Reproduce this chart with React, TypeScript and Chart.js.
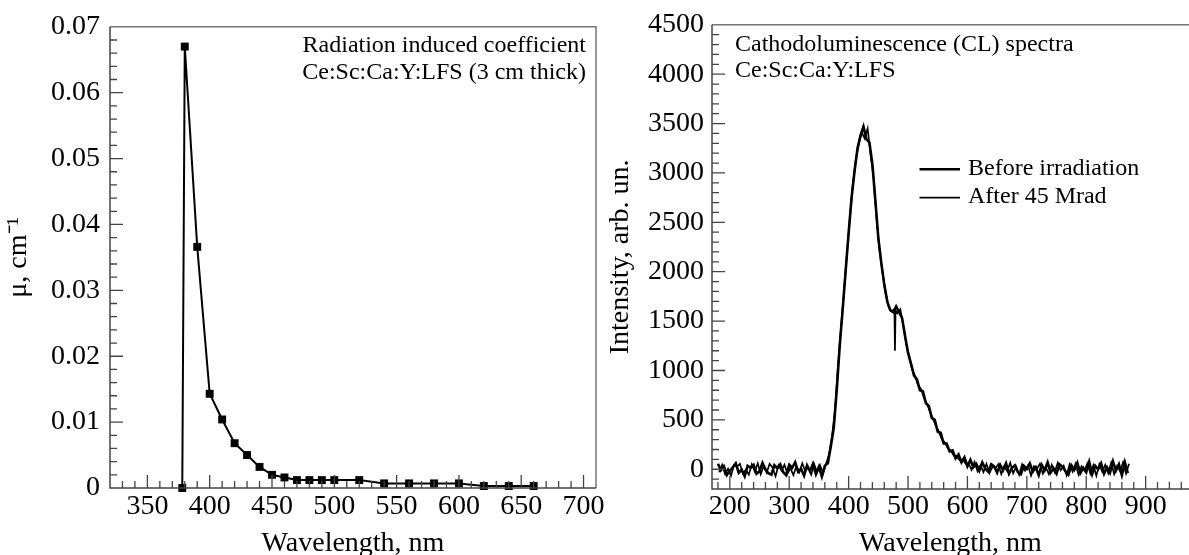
import React, { useEffect, useRef } from "react";
import { Chart, registerables } from "chart.js";

Chart.register(...registerables);

const FONT = '"Liberation Serif", "Times New Roman", Times, serif';

// ---------- Left panel: radiation induced absorption coefficient ----------
const absWavelength = [378, 380, 390, 400, 410, 420, 430, 440, 450, 460, 470, 480, 490, 500, 520, 540, 560, 580, 600, 620, 640, 660];
const absCoefficient = [0, 0.067, 0.0366, 0.0143, 0.0104, 0.0068, 0.005, 0.0032, 0.002, 0.0016, 0.0012, 0.0012, 0.0012, 0.0012, 0.0012, 0.0007, 0.0007, 0.0007, 0.0007, 0.0003, 0.0003, 0.0003];
const leftXTicks = [350, 400, 450, 500, 550, 600, 650, 700];
const leftYTicks = [0, 0.01, 0.02, 0.03, 0.04, 0.05, 0.06, 0.07];
const leftYTickLabels = ["0", "0.01", "0.02", "0.03", "0.04", "0.05", "0.06", "0.07"];
const leftNotes = ["Radiation induced coefficient", "Ce:Sc:Ca:Y:LFS (3 cm thick)"];

// ---------- Right panel: cathodoluminescence spectra ----------
const rightXTicks = [200, 300, 400, 500, 600, 700, 800, 900];
const rightYTicks = [0, 500, 1000, 1500, 2000, 2500, 3000, 3500, 4000, 4500];
const rightNotes = ["Cathodoluminescence (CL) spectra", "Ce:Sc:Ca:Y:LFS"];
const seriesLabels = ["Before irradiation", "After 45 Mrad"];

const beforeIrradiation: [number, number][] = [
  [180, 55], [185, -10], [190, 30], [195, -60], [200, -15], [205, 20], [210, 60], [215, -35], [220, -5], [225, -70],
  [230, 35], [235, 15], [240, 45], [245, -45], [250, -20], [255, 65], [260, 0], [265, -40], [270, -55], [275, 40],
  [280, 10], [285, 50], [290, -30], [295, -60], [300, 45], [305, 15], [310, 70], [315, -25], [320, 5], [325, -65],
  [330, 40], [335, -20], [340, 55], [345, -50], [350, 25], [355, -75], [360, 35], [365, 60], [370, 230], [375, 420],
  [380, 800], [385, 1250], [390, 1620], [395, 2010], [400, 2390], [405, 2750], [410, 3020], [415, 3250], [420, 3380], [425, 3470],
  [430, 3340], [435, 3310], [440, 3090], [445, 2720], [450, 2340], [455, 2090], [460, 1870], [465, 1700], [470, 1610], [475, 1590],
  [480, 1650], [485, 1590], [490, 1530], [495, 1350], [500, 1180], [505, 1070], [510, 950], [515, 910], [520, 800], [525, 790],
  [530, 670], [535, 640], [540, 520], [545, 500], [550, 380], [555, 370], [560, 260], [565, 260], [570, 180], [575, 190],
  [580, 110], [585, 150], [590, 70], [595, 120], [600, 30], [605, 95], [610, 20], [615, 55], [620, -15], [625, 70],
  [630, 5], [635, -25], [640, 50], [645, 30], [650, -35], [655, 45], [660, -10], [665, 60], [670, -45], [675, 15],
  [680, 40], [685, -30], [690, -50], [695, 35], [700, 5], [705, 60], [710, -25], [715, 20], [720, -60], [725, 45],
  [730, -10], [735, 70], [740, -35], [745, 10], [750, -45], [755, 50], [760, 25], [765, -20], [770, -55], [775, 40],
  [780, -5], [785, 65], [790, -40], [795, 15], [800, -30], [805, 75], [810, -50], [815, 35], [820, 0], [825, 60],
  [830, -45], [835, 20], [840, -35], [845, 80], [850, -15], [855, 50], [860, -60], [865, 70], [870, -40],
];

const after45Mrad: [number, number][] = [
  [182, -30], [187, 45], [192, -50], [197, 5], [202, -65], [207, 40], [212, 25], [217, 55], [222, -40], [227, -5],
  [232, -55], [237, 50], [242, -25], [247, 60], [252, -50], [257, 30], [262, -35], [267, 55], [272, 15], [277, -70],
  [282, 40], [287, -15], [292, 45], [297, -45], [302, 10], [307, -60], [312, 30], [317, -30], [322, 60], [327, -20],
  [332, 20], [337, -55], [342, 50], [347, -30], [352, 40], [357, -40], [362, 55], [367, 150], [372, 330], [377, 600],
  [382, 1040], [387, 1420], [392, 1790], [397, 2170], [402, 2540], [407, 2880], [412, 3130], [417, 3290], [422, 3410], [427, 3350],
  [432, 3450], [437, 3180], [442, 2960], [447, 2550], [452, 2220], [457, 1990], [462, 1790], [467, 1650], [472, 1600], [477, 1620],
  [478, 1200], [479, 1610], [482, 1580], [487, 1620], [492, 1460], [497, 1270], [502, 1130], [507, 1010], [512, 940], [517, 850],
  [522, 810], [527, 720], [532, 660], [537, 580], [542, 510], [547, 440], [552, 380], [557, 300], [562, 270], [567, 210],
  [572, 190], [577, 140], [582, 130], [587, 90], [592, 100], [597, 55], [602, 60], [607, -5], [612, 75], [617, -20],
  [622, 40], [627, -30], [632, 55], [637, -40], [642, 25], [647, 10], [652, 50], [657, -50], [662, 30], [667, -20],
  [672, 65], [677, -40], [682, 25], [687, -55], [692, 50], [697, -15], [702, 40], [707, -65], [712, 30], [717, 5],
  [722, 55], [727, -45], [732, 20], [737, -50], [742, 45], [747, -30], [752, 65], [757, -10], [762, 35], [767, -60],
  [772, 50], [777, -25], [782, 55], [787, -55], [792, 30], [797, -15], [802, 60], [807, -45], [812, 40], [817, -65],
  [822, 50], [827, -25], [832, 45], [837, -40], [842, 65], [847, -50], [852, 35], [857, -20], [862, 70], [867, -45], [872, 55],
];

const AXIS_DARK = "#444";
const AXIS_LIGHT = "#777";

function inwardTicks(chart: any, xMajor: number[], xStep: number, yMajor: number[], yStep: number) {
  const { ctx, chartArea: a, scales } = chart;
  const xs = scales.x;
  const ys = scales.y;
  ctx.save();
  ctx.strokeStyle = AXIS_DARK;
  ctx.lineWidth = 1.3;
  ctx.beginPath();
  const nx0 = Math.ceil(xs.min / xStep - 1e-6);
  const nx1 = Math.floor(xs.max / xStep + 1e-6);
  for (let n = nx0; n <= nx1; n++) {
    const v = n * xStep;
    const px = xs.getPixelForValue(v);
    if (px <= a.left + 1 || px >= a.right - 1) continue;
    const major = xMajor.some((m) => Math.abs(m - v) < xStep / 10);
    const len = major ? 13 : 7;
    ctx.moveTo(px, a.bottom);
    ctx.lineTo(px, a.bottom - len);
  }
  const ny0 = Math.ceil(ys.min / yStep - 1e-6);
  const ny1 = Math.floor(ys.max / yStep + 1e-6);
  for (let n = ny0; n <= ny1; n++) {
    const v = n * yStep;
    const py = ys.getPixelForValue(v);
    if (py <= a.top + 1 || py >= a.bottom - 1) continue;
    const major = yMajor.some((m) => Math.abs(m - v) < yStep / 10);
    const len = major ? 13 : 7;
    ctx.moveTo(a.left, py);
    ctx.lineTo(a.left + len, py);
  }
  ctx.stroke();
  ctx.restore();
}

const leftPlugin = {
  id: "leftDecor",
  afterDatasetsDraw(chart: any) {
    const { ctx, chartArea: a } = chart;
    inwardTicks(chart, leftXTicks, 10, leftYTicks, 0.002);
    ctx.save();
    ctx.lineWidth = 1.5;
    ctx.strokeStyle = AXIS_LIGHT;
    ctx.beginPath();
    ctx.moveTo(a.left, a.top);
    ctx.lineTo(a.right, a.top);
    ctx.lineTo(a.right, a.bottom);
    ctx.stroke();
    ctx.strokeStyle = AXIS_DARK;
    ctx.beginPath();
    ctx.moveTo(a.left, a.top);
    ctx.lineTo(a.left, a.bottom);
    ctx.lineTo(a.right, a.bottom);
    ctx.stroke();
    ctx.fillStyle = "#000";
    ctx.font = `24px ${FONT}`;
    ctx.textAlign = "right";
    ctx.textBaseline = "alphabetic";
    ctx.fillText(leftNotes[0], a.right - 10, 51.5);
    ctx.fillText(leftNotes[1], a.right - 10, 79);
    ctx.restore();
  },
};

const rightPlugin = {
  id: "rightDecor",
  afterDatasetsDraw(chart: any) {
    const { ctx, chartArea: a } = chart;
    inwardTicks(chart, rightXTicks, 20, rightYTicks, 100);
    ctx.save();
    ctx.lineWidth = 1.5;
    ctx.strokeStyle = AXIS_LIGHT;
    ctx.beginPath();
    ctx.moveTo(a.left, a.top);
    ctx.lineTo(a.right, a.top);
    ctx.stroke();
    ctx.strokeStyle = AXIS_DARK;
    ctx.beginPath();
    ctx.moveTo(a.left, a.top);
    ctx.lineTo(a.left, a.bottom);
    ctx.lineTo(a.right, a.bottom);
    ctx.stroke();
    ctx.fillStyle = "#000";
    ctx.font = `24px ${FONT}`;
    ctx.textAlign = "left";
    ctx.textBaseline = "alphabetic";
    ctx.fillText(rightNotes[0], a.left + 23, 50.5);
    ctx.fillText(rightNotes[1], a.left + 23, 77);
    // legend
    const lx0 = a.left + 207.5;
    const lx1 = a.left + 248;
    const rows = [169.3, 197.7];
    chart.data.datasets.forEach((ds: any, i: number) => {
      ctx.strokeStyle = "#000";
      ctx.lineWidth = ds.borderWidth;
      ctx.beginPath();
      ctx.moveTo(lx0, rows[i]);
      ctx.lineTo(lx1, rows[i]);
      ctx.stroke();
      ctx.textBaseline = "middle";
      ctx.fillText(ds.label, lx1 + 8, rows[i] - 1);
    });
    ctx.restore();
  },
};

const tickFont = { family: FONT, size: 28 };

function leftConfig(): any {
  return {
    type: "scatter",
    data: {
      datasets: [
        {
          label: "Radiation induced coefficient",
          data: absWavelength.map((x, i) => ({ x, y: absCoefficient[i] })),
          showLine: true,
          borderColor: "#000",
          backgroundColor: "#000",
          borderWidth: 2,
          pointStyle: "rect",
          pointRadius: 5.6,
          pointBorderWidth: 0,
          tension: 0,
          clip: false,
        },
      ],
    },
    options: {
      responsive: false,
      animation: false,
      devicePixelRatio: 1,
      events: [],
      layout: { padding: { left: 0, top: 25, right: 19, bottom: 0 } },
      plugins: { legend: { display: false }, tooltip: { enabled: false } },
      scales: {
        x: {
          type: "linear",
          min: 320,
          max: 710,
          grid: { display: false, drawTicks: false },
          border: { display: false },
          afterBuildTicks: (s: any) => {
            s.ticks = leftXTicks.map((v) => ({ value: v }));
          },
          afterFit: (s: any) => {
            s.height = 67;
          },
          ticks: { autoSkip: false, maxRotation: 0, minRotation: 0, padding: 2, font: tickFont, color: "#000", callback: (v: any) => String(v) },
          title: { display: true, text: "Wavelength, nm", color: "#000", font: { family: FONT, size: 28, lineHeight: 0.8 }, padding: 0 },
        },
        y: {
          type: "linear",
          min: 0,
          max: 0.07,
          grid: { display: false, drawTicks: false },
          border: { display: false },
          afterBuildTicks: (s: any) => {
            s.ticks = leftYTicks.map((v) => ({ value: v }));
          },
          afterFit: (s: any) => {
            s.width = 110;
          },
          ticks: {
            autoSkip: false,
            padding: 10,
            font: tickFont,
            color: "#000",
            callback: (v: any) => {
              const i = leftYTicks.findIndex((t) => Math.abs(t - v) < 1e-9);
              return i >= 0 ? leftYTickLabels[i] : "";
            },
          },
          title: { display: true, text: "\u03BC, cm\u207B\u00B9", color: "#000", font: { family: FONT, size: 28, lineHeight: 1.2 }, padding: { top: 2, bottom: 0 } },
        },
      },
    },
    plugins: [leftPlugin],
  };
}

function rightConfig(): any {
  return {
    type: "scatter",
    data: {
      datasets: [
        {
          label: seriesLabels[0],
          data: beforeIrradiation.map(([x, y]) => ({ x, y })),
          showLine: true,
          borderColor: "#000",
          borderWidth: 2.6,
          pointRadius: 0,
          tension: 0,
        },
        {
          label: seriesLabels[1],
          data: after45Mrad.map(([x, y]) => ({ x, y })),
          showLine: true,
          borderColor: "#000",
          borderWidth: 1.7,
          pointRadius: 0,
          tension: 0,
        },
      ],
    },
    options: {
      responsive: false,
      animation: false,
      devicePixelRatio: 1,
      events: [],
      layout: { padding: { left: 0, top: 24, right: 0, bottom: 0 } },
      plugins: { legend: { display: false }, tooltip: { enabled: false } },
      scales: {
        x: {
          type: "linear",
          min: 170,
          max: 973,
          grid: { display: false, drawTicks: false },
          border: { display: false },
          afterBuildTicks: (s: any) => {
            s.ticks = rightXTicks.map((v) => ({ value: v }));
          },
          afterFit: (s: any) => {
            s.height = 66;
          },
          ticks: { autoSkip: false, maxRotation: 0, minRotation: 0, padding: 1, font: tickFont, color: "#000", callback: (v: any) => String(v) },
          title: { display: true, text: "Wavelength, nm", color: "#000", font: { family: FONT, size: 28, lineHeight: 0.8 }, padding: 0 },
        },
        y: {
          type: "linear",
          min: -200,
          max: 4500,
          grid: { display: false, drawTicks: false },
          border: { display: false },
          afterBuildTicks: (s: any) => {
            s.ticks = rightYTicks.map((v) => ({ value: v }));
          },
          afterFit: (s: any) => {
            s.width = 112;
          },
          ticks: { autoSkip: false, padding: 8, font: tickFont, color: "#000", callback: (v: any) => String(v) },
          title: { display: true, text: "Intensity, arb. un.", color: "#000", font: { family: FONT, size: 28, lineHeight: 1.2 }, padding: { top: 4, bottom: 0 } },
        },
      },
    },
    plugins: [rightPlugin],
  };
}

export default function App() {
  const leftRef = useRef<HTMLCanvasElement>(null);
  const rightRef = useRef<HTMLCanvasElement>(null);

  useEffect(() => {
    const c1 = new Chart(leftRef.current as HTMLCanvasElement, leftConfig());
    const c2 = new Chart(rightRef.current as HTMLCanvasElement, rightConfig());
    return () => {
      c1.destroy();
      c2.destroy();
    };
  }, []);

  return (
    <div style={{ position: "absolute", left: 0, top: 0, width: 1189, height: 555, background: "#fff", overflow: "hidden" }}>
      <canvas ref={leftRef} width={615} height={555} style={{ position: "absolute", left: 0, top: 0 }} />
      <canvas ref={rightRef} width={589} height={555} style={{ position: "absolute", left: 600, top: 0 }} />
    </div>
  );
}
